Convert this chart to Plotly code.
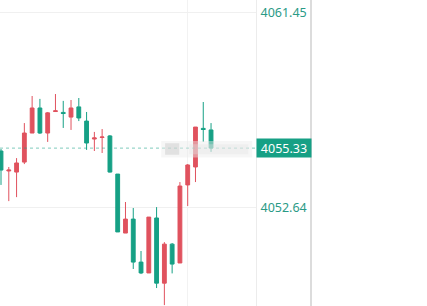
import plotly.graph_objects as go

# ---- data ----
idx = list(range(28))
open_ = [4055.20, 4054.30, 4054.25, 4054.70, 4056.01, 4057.14, 4056.01, 4056.98,
         4056.94, 4056.73, 4057.19, 4056.55, 4055.74, 4055.81, 4055.88, 4054.16,
         4051.50, 4052.13, 4050.19, 4049.70, 4052.18, 4049.24, 4051.00, 4050.15,
         4053.67, 4054.48, 4056.22, 4056.15]
high = [4055.29, 4054.48, 4054.88, 4056.46, 4057.68, 4057.55, 4056.96, 4057.77,
        4057.46, 4057.50, 4057.59, 4056.96, 4056.06, 4056.19, 4055.92, 4054.16,
        4052.90, 4052.63, 4050.69, 4052.22, 4052.67, 4051.09, 4051.05, 4053.80,
        4054.61, 4056.28, 4057.41, 4056.46]
low = [4053.67, 4052.94, 4053.12, 4054.61, 4056.01, 4055.97, 4055.61, 4056.96,
       4056.24, 4056.15, 4056.55, 4055.25, 4055.20, 4055.11, 4054.23, 4051.55,
       4051.50, 4049.88, 4049.65, 4049.70, 4049.02, 4048.25, 4049.68, 4050.15,
       4052.72, 4053.80, 4055.61, 4055.16]
close = [4054.34, 4054.34, 4054.66, 4056.01, 4057.14, 4056.01, 4056.92, 4057.01,
         4056.89, 4057.14, 4056.69, 4055.56, 4055.79, 4055.83, 4054.25, 4051.55,
         4052.13, 4050.19, 4049.70, 4052.22, 4049.24, 4051.00, 4050.10, 4053.62,
         4054.57, 4056.28, 4056.17, 4055.33]
tick_vals = [4061.45, 4052.64]
last_price = 4055.33
grid_x = [24]

RED = "#e0525e"
GREEN = "#16a085"
TEXT = "#2a9a86"

fig = go.Figure()
fig.add_trace(go.Candlestick(
    x=idx, open=open_, high=high, low=low, close=close,
    increasing=dict(line=dict(color=RED, width=1), fillcolor=RED),
    decreasing=dict(line=dict(color=GREEN, width=1), fillcolor=GREEN),
    whiskerwidth=0, showlegend=False, hoverinfo="skip",
))

# last price dotted line
fig.add_shape(type="line", xref="paper", x0=0, x1=1, yref="y",
              y0=last_price, y1=last_price,
              line=dict(color="rgba(22,160,133,0.55)", width=1, dash="dot"))

# blurred watermark region (soft layered patches)
fig.add_shape(type="rect", xref="paper", yref="y", x0=0.63, x1=0.985,
              y0=last_price - 0.42, y1=last_price + 0.32,
              fillcolor="rgba(236,236,236,0.45)", line=dict(width=0), layer="above")
fig.add_shape(type="rect", xref="paper", yref="y", x0=0.645, x1=0.70,
              y0=last_price - 0.30, y1=last_price + 0.22,
              fillcolor="rgba(200,200,200,0.45)", line=dict(width=0), layer="above")
fig.add_shape(type="rect", xref="paper", yref="y", x0=0.74, x1=0.97,
              y0=last_price - 0.28, y1=last_price + 0.18,
              fillcolor="rgba(225,225,225,0.35)", line=dict(width=0), layer="above")

# outer panel border line
fig.add_shape(type="line", xref="paper", yref="paper", x0=1.2148, x1=1.2148,
              y0=0, y1=1, line=dict(color="#dcdcdc", width=2))

# last price label
fig.add_annotation(xref="paper", x=1.0, xanchor="left", yref="y", y=last_price,
                   text=str(last_price), showarrow=False,
                   font=dict(family="Noto Sans", size=12.5, color="white"),
                   bgcolor=GREEN, width=54, height=18, borderpad=0, align="center")

fig.update_layout(
    width=427, height=306,
    margin=dict(l=0, r=171, t=0, b=0),
    paper_bgcolor="white", plot_bgcolor="white",
    boxgap=0.3,
    xaxis=dict(range=[-0.13, 32.78], rangeslider=dict(visible=False),
               tickvals=grid_x, showticklabels=False, showgrid=True,
               gridcolor="#f2f2f2", gridwidth=1, zeroline=False, showline=False,
               fixedrange=True),
    yaxis=dict(side="right", range=[4048.21, 4062.01], tickvals=tick_vals,
               ticktext=[f"{v:.2f}" for v in tick_vals],
               tickfont=dict(family="Noto Sans", size=12.5, color=TEXT),
               showgrid=True, gridcolor="#f0f0f0", gridwidth=1,
               zeroline=False, showline=True, linecolor="#ececec", linewidth=1,
               ticks="", ticklabelstandoff=1, fixedrange=True),
)

fig.write_html("out.html")
